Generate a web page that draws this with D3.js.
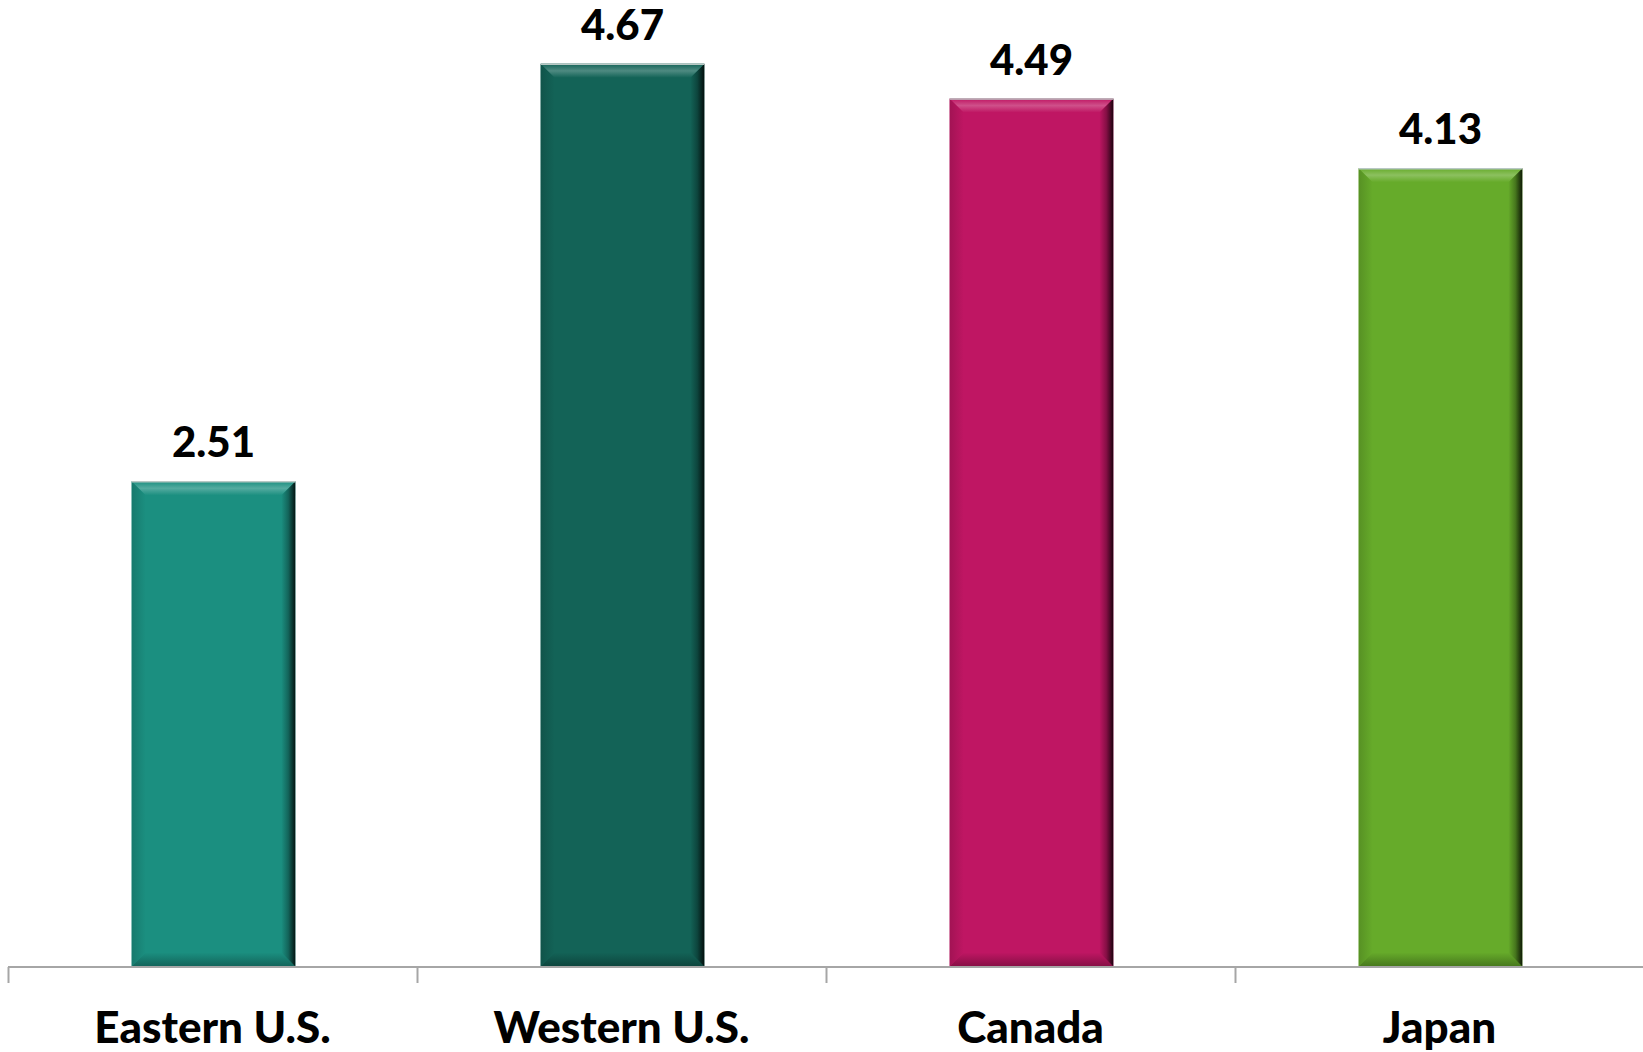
<!DOCTYPE html>
<html>
<head>
<meta charset="utf-8">
<script src="https://cdn.jsdelivr.net/npm/d3@7"></script>
<style>
html,body{margin:0;padding:0;background:#fff;}
svg{display:block;}
</style>
</head>
<body>
<svg id="chart" width="1643" height="1052"></svg>
<script>
const categories = ["Eastern U.S.", "Western U.S.", "Canada", "Japan"];
const values = [2.51, 4.67, 4.49, 4.13];
const colors = ["#1b8f80", "#136357", "#bf1663", "#66ab2a"];

const W = 1643, H = 1052;
const svg = d3.select("#chart");
const defs = svg.append("defs");

const x = d3.scaleBand().domain(categories).range([8, 1644]).paddingInner(0.6).paddingOuter(0.3);
const xAxisScale = d3.scaleBand().domain(categories).range([8, 1644]);
const y = d3.scaleLinear().domain([0, 5]).range([966.5, 0]);

const b = 14;
const y0 = y(0);

categories.forEach((c, i) => {
  const base = d3.color(colors[i]);
  const light = d3.interpolateRgb(colors[i], "#ffffff")(0.25);
  const dark = d3.interpolateRgb(colors[i], "#000000")(0.85);
  const mid = d3.interpolateRgb(colors[i], "#000000")(0.3);
  const g1 = defs.append("linearGradient").attr("id", "top" + i).attr("x1", 0).attr("y1", 0).attr("x2", 0).attr("y2", 1);
  g1.append("stop").attr("offset", 0).attr("stop-color", base.formatHex());
  g1.append("stop").attr("offset", 0.5).attr("stop-color", light);
  g1.append("stop").attr("offset", 1).attr("stop-color", base.formatHex());
  const g2 = defs.append("linearGradient").attr("id", "right" + i).attr("x1", 0).attr("y1", 0).attr("x2", 1).attr("y2", 0);
  g2.append("stop").attr("offset", 0).attr("stop-color", base.formatHex());
  g2.append("stop").attr("offset", 0.5).attr("stop-color", mid);
  g2.append("stop").attr("offset", 1).attr("stop-color", dark);
  const g3 = defs.append("linearGradient").attr("id", "bot" + i).attr("x1", 0).attr("y1", 0).attr("x2", 0).attr("y2", 1);
  g3.append("stop").attr("offset", 0).attr("stop-color", base.formatHex());
  g3.append("stop").attr("offset", 1).attr("stop-color", mid);
  const g4 = defs.append("linearGradient").attr("id", "left" + i).attr("x1", 0).attr("y1", 0).attr("x2", 1).attr("y2", 0);
  g4.append("stop").attr("offset", 0).attr("stop-color", d3.interpolateRgb(colors[i], "#000000")(0.15));
  g4.append("stop").attr("offset", 1).attr("stop-color", base.formatHex());
});

const bars = svg.append("g").selectAll("g").data(categories).join("g");
bars.each(function(c, i) {
  const g = d3.select(this);
  const bx = x(c) + 1, bw = x.bandwidth(), by = y(values[i]);
  const pts = a => a.map(p => p.join(",")).join(" ");
  g.append("rect").attr("x", bx).attr("y", by).attr("width", bw).attr("height", y0 - by).attr("fill", colors[i]);
  g.append("polygon").attr("points", pts([[bx, by], [bx + b, by + b], [bx + b, y0 - b], [bx, y0]])).attr("fill", `url(#left${i})`);
  g.append("polygon").attr("points", pts([[bx, y0], [bx + b, y0 - b], [bx + bw - b, y0 - b], [bx + bw, y0]])).attr("fill", `url(#bot${i})`);
  g.append("polygon").attr("points", pts([[bx + bw, by], [bx + bw - b, by + b], [bx + bw - b, y0 - b], [bx + bw, y0]])).attr("fill", `url(#right${i})`);
  g.append("polygon").attr("points", pts([[bx, by], [bx + bw, by], [bx + bw - b, by + b], [bx + b, by + b]])).attr("fill", `url(#top${i})`);
  g.append("line").attr("x1", bx).attr("x2", bx + bw).attr("y1", by + 0.5).attr("y2", by + 0.5).attr("stroke", "#b8c8c4").attr("stroke-width", 1.5);
  g.append("text").attr("x", bx + bw / 2).attr("y", by - 24).attr("text-anchor", "middle")
    .attr("font-family", "Lato, 'Open Sans', sans-serif").attr("font-weight", 900).attr("font-size", 42)
    .attr("fill", "#000").text(values[i].toFixed(2));
});

// axis
const axisG = svg.append("g");
axisG.append("line").attr("x1", 8).attr("x2", 1643).attr("y1", 967).attr("y2", 967).attr("stroke", "#a6a6a6").attr("stroke-width", 2);
categories.forEach(c => {
  const tx = Math.round(xAxisScale(c)) + 0.5;
  axisG.append("line").attr("x1", tx).attr("x2", tx).attr("y1", 967).attr("y2", 983).attr("stroke", "#a6a6a6").attr("stroke-width", 2);
  axisG.append("text").attr("x", xAxisScale(c) + xAxisScale.bandwidth() / 2).attr("y", 1043).attr("text-anchor", "middle")
    .attr("font-family", "Lato, 'Open Sans', sans-serif").attr("font-weight", 900).attr("font-size", 44)
    .attr("fill", "#000").text(c);
});
</script>
</body>
</html>
